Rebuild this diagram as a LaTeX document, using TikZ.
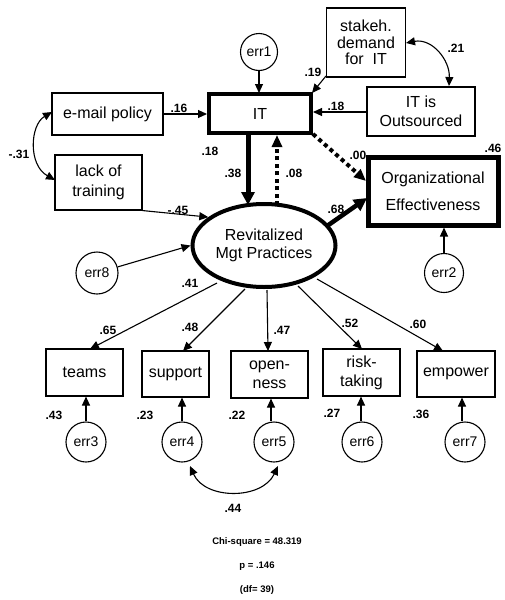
\documentclass[tikz,border=0pt]{standalone}
\usepackage{fontspec}
\setmainfont{Liberation Sans}
\usetikzlibrary{arrows.meta,shapes.geometric}
\begin{document}
\begin{tikzpicture}[x=1pt,y=-1pt,
  box/.style={draw,line width=1.1pt,inner sep=0pt,align=center,font=\fontsize{16}{18}\selectfont},
  errc/.style={draw,circle,line width=1.1pt,inner sep=0pt,minimum size=40pt,font=\fontsize{14}{16}\selectfont},
  lab/.style={font=\bfseries\fontsize{12}{14}\selectfont,inner sep=0pt},
  arr/.style={line width=1.1pt,-{Triangle[length=9pt,width=8pt]}},
  darr/.style={line width=1.1pt,{Triangle[length=9pt,width=8pt]}-{Triangle[length=9pt,width=8pt]}},
  bigarr/.style={line width=5pt,-{Triangle[length=13pt,width=13pt]}},
  dotarr/.style={line width=4pt,dash pattern={on 4pt off 3.5pt},-{Triangle[length=12pt,width=10pt]}},
  stat/.style={font=\bfseries\fontsize{9.5}{11}\selectfont,inner sep=0pt}
]
\useasboundingbox (0,0) rectangle (505,600);
% boxes
\node[box,minimum width=111pt,minimum height=42pt] (email) at (107.5,114) {e-mail policy};
\node[box,minimum width=87pt,minimum height=55pt,font=\fontsize{16}{20}\selectfont] (lack) at (98.5,182.5) {lack of\\training};
\node[box,line width=4pt,minimum width=102pt,minimum height=39pt] (IT) at (260,113.5) {IT};
\node[box,minimum width=79pt,minimum height=69pt,font=\fontsize{16}{16.5}\selectfont] (stake) at (366,42.5) {stakeh.\\demand\\for\ \ IT};
\node[box,minimum width=108pt,minimum height=49pt,font=\fontsize{16}{19}\selectfont] (outs) at (421,111.5) {IT is\\Outsourced};
\node[box,line width=5pt,minimum width=130pt,minimum height=68pt,font=\fontsize{16}{27}\selectfont] (org) at (433,191) {Organizational\\Effectiveness};
\node[draw,ellipse,line width=4pt,minimum width=143pt,minimum height=83pt,inner sep=0pt,align=center,font=\fontsize{16}{18}\selectfont] (rev) at (264,245.5) {Revitalized\\Mgt Practices};
\node[box,minimum width=77pt,minimum height=47pt] (teams) at (84.5,372.5) {teams};
\node[box,minimum width=67pt,minimum height=46pt] (supp) at (175.5,374) {support};
\node[box,minimum width=77pt,minimum height=47pt,font=\fontsize{16}{19}\selectfont] (open) at (269.5,374.5) {open-\\ness};
\node[box,minimum width=77pt,minimum height=47pt,font=\fontsize{16}{19}\selectfont] (risk) at (361.5,372.5) {risk-\\taking};
\node[box,minimum width=78pt,minimum height=46pt] (emp) at (456,374) {empower};
% error circles
\node[errc,minimum size=37pt] (e1) at (259,52) {err1};
\node[errc,minimum size=42pt] (e8) at (97,273) {err8};
\node[errc,minimum size=39pt] (e2) at (444,273) {err2};
\node[errc] (e3) at (86,442) {err3};
\node[errc] (e4) at (182,442) {err4};
\node[errc] (e5) at (274,442) {err5};
\node[errc] (e6) at (362,442) {err6};
\node[errc] (e7) at (465,442) {err7};
% helper coordinates
\coordinate (ITtop) at (259,93);
\coordinate (ITne) at (312,93);
\coordinate (ITbl) at (248,135);
\coordinate (ITbr) at (277,135);
\coordinate (ITse) at (313,134);
\coordinate (revt1) at (248,205);
\coordinate (revt2) at (277,205);
\coordinate (revne) at (327,226);
\coordinate (orgw1) at (366,181);
\coordinate (orgw2) at (367,198);
\coordinate (stakesw) at (326,76);
% structural paths
\draw[arr] (e1) -- (ITtop);
\draw[arr] (stakesw) -- (ITne);
\draw[arr] (outs.west |- 0,112) -- (IT.east |- 0,112);
\draw[arr] (email.east |- 0,114) -- (IT.west |- 0,114);
\draw[arr] (lack.south east) -- (rev.153);
\draw[arr] (e8) -- (rev.west);
\draw[bigarr] (ITbl) -- (revt1);
\draw[dotarr] (revt2) -- (ITbr);
\draw[dotarr] (ITse) -- (orgw1);
\draw[bigarr,line width=4.5pt] (revne) -- (orgw2);
\draw[arr] (e2) -- (org.south -| e2);
% loadings
\draw[arr] (217,283) -- (90,349);
\draw[arr] (245,289) -- (183,351);
\draw[arr] (267,290) -- (268,351);
\draw[arr] (298,286) -- (362,349);
\draw[arr] (317,279) -- (443,351);
% error to indicators
\draw[arr] (e3) -- (teams.south -| e3);
\draw[arr] (e4) -- (supp.south -| e4);
\draw[arr] (e5.north -| 271,0) -- (open.south -| 271,0);
\draw[arr] (e6.north -| 361,0) -- (risk.south -| 361,0);
\draw[arr] (e7.north -| 462,0) -- (emp.south -| 462,0);
% covariances
\draw[darr] (52,112) .. controls (30,125) and (28,165) .. (55,180);
\draw[darr] (406,43) .. controls (432,38) and (450,60) .. (449,86);
\draw[darr] (190,466) .. controls (205,500) and (262,500) .. (278,466);
% labels
\node[lab] at (179,108) {.16};
\node[lab] at (210,151) {.18};
\node[lab] at (233,173) {.38};
\node[lab] at (294,173) {.08};
\node[lab] at (358,155) {.00};
\node[lab] at (313,72) {.19};
\node[lab] at (336,106) {.18};
\node[lab] at (456,48) {.21};
\node[lab] at (19,154) {-.31};
\node[lab] at (178,210) {-.45};
\node[lab] at (336,209) {.68};
\node[lab] at (493,148) {.46};
\node[lab] at (190,283) {.41};
\node[lab] at (108,330) {.65};
\node[lab] at (190,327) {.48};
\node[lab] at (282,330) {.47};
\node[lab] at (350,323) {.52};
\node[lab] at (418,324) {.60};
\node[lab] at (54,415) {.43};
\node[lab] at (145,415) {.23};
\node[lab] at (237,415) {.22};
\node[lab] at (332,413) {.27};
\node[lab] at (421,414) {.36};
\node[lab] at (233,508) {.44};
% statistics
\node[stat] (chi) at (257,542) {Chi-square = 48.319};
\node[stat] (pval) at (257,566) {p = .146};
\node[stat] (df) at (257,590) {(df= 39)};
\end{tikzpicture}
\end{document}
